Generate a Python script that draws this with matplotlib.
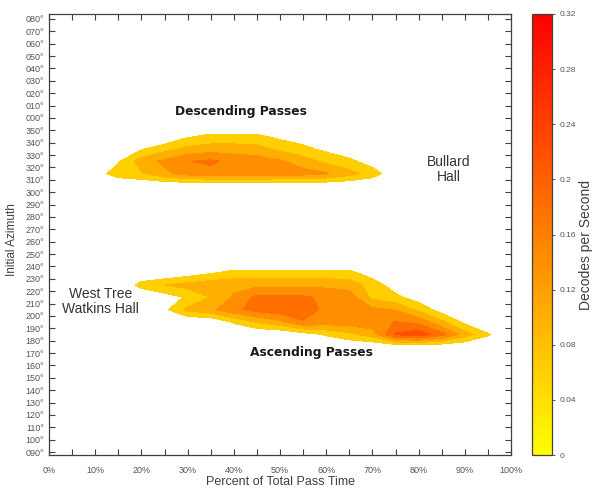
import matplotlib.pyplot as plt
import numpy as np
from matplotlib.colors import LinearSegmentedColormap, Normalize
from matplotlib.cm import ScalarMappable
from matplotlib.ticker import FormatStrFormatter, MultipleLocator

# grid: percent of total pass time and initial azimuth (unwrapped, 085..445 deg)
pass_pct = np.arange(0, 101, 5)
azimuth = np.arange(85, 446, 10)

# decodes per second (columns = pass_pct)
asc_185 = [0, 0, 0, 0, 0, 0, 0, 0, 0, 0, 0, 0.02, 0.045, 0.07, 0.10, 0.205, 0.225, 0.175, 0.10, 0.045, 0]
asc_195 = [0, 0, 0, 0, 0, 0, 0, 0, 0.045, 0.082, 0.11, 0.155, 0.14, 0.14, 0.145, 0.162, 0.15, 0.09, 0.03, 0, 0]
asc_205 = [0, 0, 0, 0, 0, 0.03, 0.09, 0.11, 0.15, 0.175, 0.185, 0.19, 0.145, 0.135, 0.13, 0.118, 0.07, 0.02, 0, 0, 0]
asc_215 = [0, 0, 0, 0, 0, 0.02, 0.045, 0.082, 0.125, 0.17, 0.17, 0.168, 0.15, 0.14, 0.07, 0.05, 0.02, 0, 0, 0, 0]
asc_225 = [0, 0, 0, 0, 0.055, 0.079, 0.095, 0.105, 0.11, 0.11, 0.11, 0.11, 0.11, 0.105, 0.06, 0.02, 0, 0, 0, 0, 0]
asc_235 = [0, 0, 0, 0, 0, 0, 0.015, 0.035, 0.05, 0.05, 0.05, 0.05, 0.05, 0.05, 0.02, 0, 0, 0, 0, 0, 0]

desc_315 = [0, 0, 0.02, 0.06, 0.075, 0.11, 0.135, 0.145, 0.145, 0.145, 0.14, 0.135, 0.125, 0.095, 0.06, 0.01, 0, 0, 0, 0, 0]
desc_325 = [0, 0, 0, 0.035, 0.10, 0.13, 0.158, 0.168, 0.148, 0.14, 0.125, 0.10, 0.07, 0.05, 0.02, 0, 0, 0, 0, 0, 0]
desc_335 = [0, 0, 0, 0, 0.035, 0.065, 0.09, 0.10, 0.10, 0.095, 0.07, 0.05, 0.03, 0.01, 0, 0, 0, 0, 0, 0, 0]
desc_345 = [0, 0, 0, 0, 0, 0, 0.035, 0.05, 0.05, 0.048, 0.03, 0.02, 0.01, 0, 0, 0, 0, 0, 0, 0, 0]

rows = [(185, asc_185), (195, asc_195), (205, asc_205), (215, asc_215),
        (225, asc_225), (235, asc_235),
        (315, desc_315), (325, desc_325), (335, desc_335), (345, desc_345)]

levels = np.arange(0.04, 0.33, 0.04)
cbar_ticks = np.arange(0, 0.33, 0.04)

Z = np.zeros((len(azimuth), len(pass_pct)))
for az, vals in rows:
    Z[azimuth == az] = vals

cmap = LinearSegmentedColormap.from_list('yr', ['#FFFF00', '#FF0000'])
norm = Normalize(0, 0.32)

plt.rcParams['font.family'] = ['Liberation Sans', 'DejaVu Sans']
grey = '#404040'

fig = plt.figure(figsize=(5.95, 4.91), dpi=100)
ax = fig.add_axes([49 / 595, 36 / 491, 462 / 595, 441 / 491])

ax.contourf(pass_pct, azimuth, Z, levels=levels, cmap=cmap, norm=norm)

ax.set_xlim(0, 100)
ax.set_ylim(87.6, 444)

ax.xaxis.set_major_locator(MultipleLocator(10))
ax.xaxis.set_minor_locator(MultipleLocator(5))
ax.xaxis.set_major_formatter(plt.FuncFormatter(lambda v, p: '%d%%' % v))
yt = np.arange(90, 441, 10)
ax.set_yticks(yt)
ax.set_yticklabels(['%03d\u00b0' % (d % 360) for d in yt])

ax.tick_params(which='both', direction='in', top=True, right=True,
               length=4, width=0.8, color=grey, labelcolor='#555555')
ax.tick_params(axis='x', labelsize=6.5, pad=8)
ax.tick_params(axis='y', labelsize=6.5)
for s in ax.spines.values():
    s.set_color(grey)
    s.set_linewidth(0.9)

# annotations
ax.text(41.5, 365, 'Descending Passes', ha='center', va='center',
        fontsize=8.8, fontweight='bold', family='DejaVu Sans', color='#1a1a1a')
ax.text(56.7, 170.8, 'Ascending Passes', ha='center', va='center',
        fontsize=8.8, fontweight='bold', family='DejaVu Sans', color='#1a1a1a')
ax.text(86.5, 318, 'Bullard\nHall', ha='center', va='center',
        fontsize=10, color='#333333', linespacing=1.1)
ax.text(11.1, 211.3, 'West Tree\nWatkins Hall', ha='center', va='center',
        fontsize=10, color='#333333', linespacing=1.1)

fig.text(280 / 595, 1 - 482 / 491, 'Percent of Total Pass Time', ha='center',
         va='center', fontsize=9, color=grey)
fig.text(12 / 595, 1 - 240 / 491, 'Initial Azimuth', rotation=90, ha='center',
         va='center', fontsize=8.5, color=grey)

# colorbar
cax = fig.add_axes([532 / 595, 36 / 491, 20 / 595, 441 / 491])
sm = ScalarMappable(norm=norm, cmap=cmap)
cb = fig.colorbar(sm, cax=cax, ticks=cbar_ticks)
cb.ax.yaxis.set_major_formatter(FormatStrFormatter('%g'))
cb.ax.tick_params(labelsize=6, length=2, width=0.6, color=grey, labelcolor='#555555')
cb.outline.set_edgecolor(grey)
cb.outline.set_linewidth(0.9)
fig.text(586 / 595, 1 - 245 / 491, 'Decodes per Second', rotation=90,
         ha='center', va='center', fontsize=10, color=grey)

fig.savefig('out.png', dpi=100)
